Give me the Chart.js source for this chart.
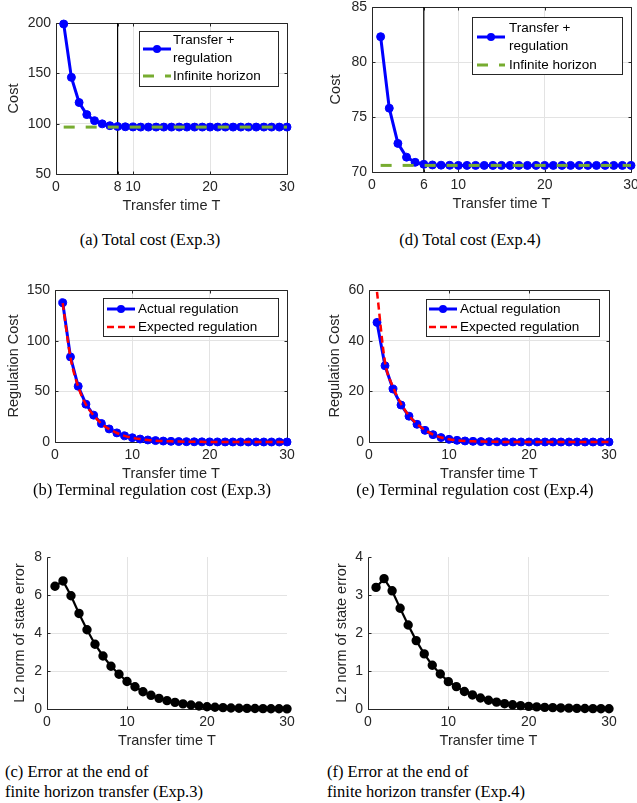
<!DOCTYPE html>
<html>
<head>
<meta charset="utf-8">
<script src="https://cdn.jsdelivr.net/npm/chart.js@4.4.0/dist/chart.umd.min.js"></script>
<style>
  html, body { margin: 0; padding: 0; background: #fff; }
  body { width: 637px; height: 803px; position: relative; overflow: hidden; }
  .wrap { position: absolute; }
  .cap { position: absolute; font-family: "Liberation Serif", "Times New Roman", serif; font-size: 16.5px; color: #000; white-space: nowrap; line-height: 20px; }
</style>
</head>
<body>
<div class="wrap" style="left:0;top:0;width:300px;height:225px"><canvas id="chartA"></canvas></div>
<div class="wrap" style="left:320px;top:0;width:317px;height:225px"><canvas id="chartD"></canvas></div>
<div class="wrap" style="left:0;top:262px;width:300px;height:225px"><canvas id="chartB"></canvas></div>
<div class="wrap" style="left:320px;top:262px;width:317px;height:225px"><canvas id="chartE"></canvas></div>
<div class="wrap" style="left:0;top:540px;width:300px;height:215px"><canvas id="chartC"></canvas></div>
<div class="wrap" style="left:320px;top:540px;width:317px;height:215px"><canvas id="chartF"></canvas></div>

<div class="cap" style="left:0;width:300px;top:230px;text-align:center">(a) Total cost (Exp.3)</div>
<div class="cap" style="left:320px;width:300px;top:230px;text-align:center">(d) Total cost (Exp.4)</div>
<div class="cap" style="left:0;width:304px;top:480px;text-align:center">(b) Terminal regulation cost (Exp.3)</div>
<div class="cap" style="left:320px;width:310px;top:480px;text-align:center">(e) Terminal regulation cost (Exp.4)</div>
<div class="cap" style="left:5px;top:762px">(c) Error at the end of<br>finite horizon transfer (Exp.3)</div>
<div class="cap" style="left:327px;top:762px">(f) Error at the end of<br>finite horizon transfer (Exp.4)</div>

<script>
// transfer time T
const T = [1, 2, 3, 4, 5, 6, 7, 8, 9, 10, 11, 12, 13, 14, 15, 16, 17, 18, 19, 20, 21, 22, 23, 24, 25, 26, 27, 28, 29, 30];

// (a) total cost, Exp.3
const costExp3 = [199, 146, 121, 109, 103, 99.8, 98, 97.2, 96.9, 96.7, 96.6, 96.6, 96.6, 96.6, 96.6,
                  96.6, 96.6, 96.6, 96.6, 96.6, 96.6, 96.6, 96.6, 96.6, 96.6, 96.6, 96.6, 96.6, 96.6, 96.6];
const infExp3 = 96.6;
const switchExp3 = 8;

// (d) total cost, Exp.4
const costExp4 = [82.3, 75.8, 72.6, 71.35, 70.88, 70.7, 70.64, 70.62, 70.61, 70.6, 70.6, 70.6, 70.6, 70.6, 70.6,
                  70.6, 70.6, 70.6, 70.6, 70.6, 70.6, 70.6, 70.6, 70.6, 70.6, 70.6, 70.6, 70.6, 70.6, 70.6];
const infExp4 = 70.6;
const switchExp4 = 6;

// (b) terminal regulation cost, Exp.3
const regActual3 = [137.5, 84, 55, 37.3, 26.5, 18.3, 12.9, 9, 6.1, 4.2, 2.9, 2.0, 1.4, 0.95, 0.65,
                    0.45, 0.31, 0.21, 0.15, 0.1, 0.07, 0.05, 0.034, 0.023, 0.016, 0.011, 0.008, 0.005, 0.004, 0.003];
const regExpected3 = [137, 83.5, 54.5, 37, 26.2, 18.1, 12.7, 8.9, 6.0, 4.1, 2.85, 1.95, 1.35, 0.93, 0.64,
                      0.44, 0.3, 0.21, 0.14, 0.1, 0.07, 0.05, 0.03, 0.02, 0.015, 0.01, 0.007, 0.005, 0.003, 0.002];

// (e) terminal regulation cost, Exp.4
const regActual4 = [47.2, 30.1, 20.9, 14.6, 10.2, 7.0, 4.6, 2.9, 1.75, 1.05, 0.66, 0.41, 0.26, 0.16, 0.1,
                    0.065, 0.04, 0.026, 0.017, 0.011, 0.007, 0.005, 0.003, 0.002, 0.0015, 0.001, 0.0007, 0.0005, 0.0003, 0.0002];
const regExpected4 = [59.3, 31.6, 21.8, 15.1, 10.4, 7.1, 4.7, 2.95, 1.8, 1.08, 0.67, 0.42, 0.26, 0.16, 0.1,
                      0.065, 0.04, 0.026, 0.017, 0.011, 0.007, 0.005, 0.003, 0.002, 0.0015, 0.001, 0.0007, 0.0005, 0.0003, 0.0002];

// (c), (f) L2 norm of state error
const errExp3 = [6.46, 6.74, 5.96, 5.03, 4.17, 3.41, 2.79, 2.25, 1.83, 1.45, 1.17, 0.91, 0.72, 0.56, 0.44,
                 0.35, 0.27, 0.21, 0.16, 0.12, 0.09, 0.07, 0.055, 0.042, 0.032, 0.025, 0.019, 0.015, 0.011, 0.009];
const errExp4 = [3.2, 3.43, 3.11, 2.65, 2.21, 1.8, 1.45, 1.15, 0.92, 0.72, 0.59, 0.46, 0.37, 0.29, 0.23,
                 0.18, 0.14, 0.11, 0.09, 0.07, 0.055, 0.044, 0.035, 0.028, 0.022, 0.017, 0.013, 0.01, 0.008, 0.006];

// tick labels
const xTicks3 = [0, 8, 10, 20, 30];
const xTicks4 = [0, 6, 10, 20, 30];
const xTicks = [0, 10, 20, 30];
const yTicksCost3 = [50, 100, 150, 200];
const yTicksCost4 = [70, 75, 80, 85];
const yTicksReg3 = [0, 50, 100, 150];
const yTicksReg4 = [0, 20, 40, 60];
const yTicksErr3 = [0, 2, 4, 6, 8];
const yTicksErr4 = [0, 1, 2, 3, 4];

const ink = '#262626';
const gridCol = '#e3e3e3';
const sans = 'Liberation Sans';
const blue = '#0000ff';
const green = '#77ac30';
const red = '#ff0000';

Chart.defaults.animation = false;

const pts = (ys) => T.map((t, i) => ({x: t, y: ys[i]}));

// axes frame + inward tick marks
const frame = {
  id: 'frame',
  beforeDatasetsDraw(chart, args, opts) {
    const {ctx, chartArea: a, scales} = chart;
    const l = Math.round(a.left) + 0.5, r = Math.round(a.right) + 0.5;
    const t = Math.round(a.top) + 0.5, b = Math.round(a.bottom) + 0.5;
    ctx.save();
    ctx.strokeStyle = ink;
    ctx.lineWidth = 1;
    ctx.beginPath();
    ctx.moveTo(l, t); ctx.lineTo(l, b); ctx.lineTo(r, b);
    if (opts.box) { ctx.lineTo(r, t); ctx.lineTo(l, t); }
    scales.x.ticks.forEach(tk => {
      const px = Math.round(scales.x.getPixelForValue(tk.value)) + 0.5;
      ctx.moveTo(px, b); ctx.lineTo(px, b - 3);
      if (opts.box) { ctx.moveTo(px, t); ctx.lineTo(px, t + 3); }
    });
    scales.y.ticks.forEach(tk => {
      const py = Math.round(scales.y.getPixelForValue(tk.value)) + 0.5;
      ctx.moveTo(l, py); ctx.lineTo(l + 3, py);
      if (opts.box) { ctx.moveTo(r, py); ctx.lineTo(r - 3, py); }
    });
    ctx.stroke();
    ctx.restore();
  }
};

// legend box drawn inside the axes
const boxLegend = {
  id: 'boxLegend',
  afterDatasetsDraw(chart, args, opts) {
    if (!opts.items) return;
    const {ctx} = chart;
    const [x1, y1, x2, y2] = opts.box;
    ctx.save();
    ctx.fillStyle = '#fff';
    ctx.fillRect(x1, y1, x2 - x1, y2 - y1);
    ctx.strokeStyle = ink;
    ctx.lineWidth = 1;
    ctx.strokeRect(Math.round(x1) + 0.5, Math.round(y1) + 0.5, Math.round(x2 - x1), Math.round(y2 - y1));
    opts.items.forEach((di, k) => {
      const ds = chart.data.datasets[di];
      const y = opts.rows[k];
      ctx.setLineDash(ds.borderDash || []);
      ctx.strokeStyle = ds.borderColor;
      ctx.lineWidth = ds.borderWidth;
      ctx.beginPath();
      ctx.moveTo(opts.sample[0], y); ctx.lineTo(opts.sample[1], y);
      ctx.stroke();
      ctx.setLineDash([]);
      if (ds.pointRadius > 0) {
        ctx.fillStyle = ds.pointBackgroundColor;
        ctx.beginPath();
        ctx.arc((opts.sample[0] + opts.sample[1]) / 2, y, ds.pointRadius, 0, Math.PI * 2);
        ctx.fill();
      }
      const lines = ds.label.split('\n');
      ctx.fillStyle = '#000';
      ctx.font = '13.5px "' + sans + '"';
      ctx.textBaseline = 'middle';
      ctx.textAlign = 'left';
      lines.forEach((s, j) => ctx.fillText(s, opts.textX, y + (j - (lines.length - 1) / 2) * 18));
    });
    ctx.restore();
  }
};

function makeChart(id, cfg) {
  const el = document.getElementById(id);
  const wrap = el.parentNode;
  const cx = wrap.offsetLeft, cy = wrap.offsetTop;
  const cw = wrap.offsetWidth, ch = wrap.offsetHeight;
  const [L, Tp, R, B] = cfg.plot;
  const yMin = cfg.yTicks[0], yMax = cfg.yTicks[cfg.yTicks.length - 1];
  const gridFn = (lo, hi) => (c) => (c.tick && (c.tick.value === lo || c.tick.value === hi)) ? 'rgba(0,0,0,0)' : gridCol;

  let legendOpts = {};
  if (cfg.legend) {
    const lg = cfg.legend;
    legendOpts = {
      items: lg.items,
      box: [lg.box[0] - cx, lg.box[1] - cy, lg.box[2] - cx, lg.box[3] - cy],
      sample: [lg.sample[0] - cx, lg.sample[1] - cx],
      textX: lg.textX - cx,
      rows: lg.rows.map(v => v - cy)
    };
  }

  return new Chart(el, {
    type: 'line',
    data: {datasets: cfg.datasets},
    options: {
      responsive: true,
      maintainAspectRatio: false,
      layout: {padding: {left: 0, top: Tp - cy, right: cx + cw - R, bottom: 0}},
      plugins: {
        legend: {display: false},
        tooltip: {enabled: false},
        frame: {box: cfg.box},
        boxLegend: legendOpts
      },
      scales: {
        x: {
          type: 'linear', min: 0, max: 30,
          afterBuildTicks: s => { s.ticks = cfg.xTicks.map(v => ({value: v})); },
          afterFit: s => { s.height = cy + ch - B; s.paddingLeft = 0; s.paddingRight = 0; },
          ticks: {color: ink, font: {family: sans, size: 14}, padding: 5, maxRotation: 0, autoSkip: false},
          grid: {color: gridFn(0, 30), drawTicks: false},
          border: {display: false},
          title: {display: true, text: 'Transfer time T', color: ink, font: {family: sans, size: 14.5},
                  padding: {top: 0, bottom: cy + ch - cfg.xTitleY - 8.7}}
        },
        y: {
          min: yMin, max: yMax,
          afterBuildTicks: s => { s.ticks = cfg.yTicks.map(v => ({value: v})); },
          afterFit: s => { s.width = L - cx; s.paddingTop = 0; s.paddingBottom = 0; },
          ticks: {color: ink, font: {family: sans, size: 14}, padding: 5},
          grid: {color: gridFn(yMin, yMax), drawTicks: false},
          border: {display: false},
          title: {display: true, text: cfg.yTitle, color: ink, font: {family: sans, size: 14.5},
                  padding: {top: cfg.yTitleX - cx - 8.7, bottom: 0}}
        }
      }
    },
    plugins: [frame, boxLegend]
  });
}

function totalSets(cost, inf, sw, yTicks) {
  return [
    {label: 'Transfer +\nregulation', data: pts(cost), borderColor: blue, borderWidth: 3,
     pointRadius: 4, pointBackgroundColor: blue, pointBorderColor: blue, pointBorderWidth: 1, order: 2, clip: false},
    {label: 'Infinite horizon', data: [{x: T[0], y: inf}, {x: T[T.length - 1], y: inf}], borderColor: green,
     borderWidth: 3, borderDash: [11, 11], pointRadius: 0, order: 1, clip: false},
    {label: '', data: [{x: sw, y: yTicks[0]}, {x: sw, y: yTicks[yTicks.length - 1]}], borderColor: '#000',
     borderWidth: 1.2, pointRadius: 0, order: 3}
  ];
}

function regSets(actual, expected) {
  return [
    {label: 'Actual regulation', data: pts(actual), borderColor: blue, borderWidth: 3,
     pointRadius: 4, pointBackgroundColor: blue, pointBorderColor: blue, pointBorderWidth: 1, order: 2, clip: false},
    {label: 'Expected regulation', data: pts(expected), borderColor: red, borderWidth: 2.5,
     borderDash: [7, 4], pointRadius: 0, tension: 0.4, cubicInterpolationMode: 'monotone', order: 1, clip: false}
  ];
}

function errSets(err) {
  return [
    {label: 'error', data: pts(err), borderColor: '#000', borderWidth: 2.2,
     pointRadius: 3.6, pointBackgroundColor: '#000', pointBorderColor: '#000', order: 1, clip: false}
  ];
}

makeChart('chartA', {
  plot: [56, 23, 287, 174], xTitleY: 206, yTitleX: 13.5, yTitle: 'Cost', box: true,
  xTicks: xTicks3, yTicks: yTicksCost3,
  datasets: totalSets(costExp3, infExp3, switchExp3, yTicksCost3),
  legend: {items: [0, 1], box: [139, 31, 278, 86], sample: [143, 171], textX: 173, rows: [49, 76]}
});

makeChart('chartD', {
  plot: [372, 7, 631, 172], xTitleY: 204, yTitleX: 336, yTitle: 'Cost', box: true,
  xTicks: xTicks4, yTicks: yTicksCost4,
  datasets: totalSets(costExp4, infExp4, switchExp4, yTicksCost4),
  legend: {items: [0, 1], box: [472, 17, 622, 74], sample: [477, 505], textX: 509, rows: [37, 65]}
});

makeChart('chartB', {
  plot: [55, 290, 287, 442], xTitleY: 474, yTitleX: 14, yTitle: 'Regulation Cost', box: true,
  xTicks: xTicks, yTicks: yTicksReg3,
  datasets: regSets(regActual3, regExpected3),
  legend: {items: [0, 1], box: [103, 298, 278, 336], sample: [107, 135], textX: 138, rows: [309, 327]}
});

makeChart('chartE', {
  plot: [369, 290, 609, 442], xTitleY: 474, yTitleX: 334.5, yTitle: 'Regulation Cost', box: true,
  xTicks: xTicks, yTicks: yTicksReg4,
  datasets: regSets(regActual4, regExpected4),
  legend: {items: [0, 1], box: [426, 299, 599, 336], sample: [429, 457], textX: 460, rows: [309, 327]}
});

makeChart('chartC', {
  plot: [47, 557, 287, 709], xTitleY: 741, yTitleX: 20, yTitle: 'L2 norm of state error', box: false,
  xTicks: xTicks, yTicks: yTicksErr3,
  datasets: errSets(errExp3)
});

makeChart('chartF', {
  plot: [368, 557, 609, 709], xTitleY: 741, yTitleX: 342, yTitle: 'L2 norm of state error', box: false,
  xTicks: xTicks, yTicks: yTicksErr4,
  datasets: errSets(errExp4)
});
</script>
</body>
</html>
